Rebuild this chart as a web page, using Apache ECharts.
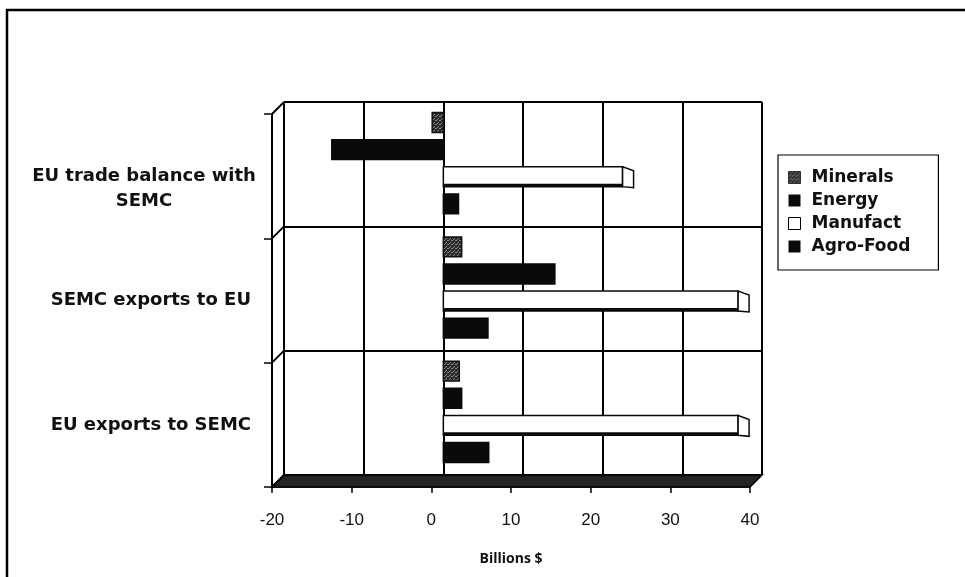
<!DOCTYPE html>
<html>
<head>
<meta charset="utf-8">
<script src="https://cdn.jsdelivr.net/npm/echarts@6/dist/echarts.min.js"></script>
<style>
  html, body { margin: 0; padding: 0; background: #fff; }
  #chart { width: 965px; height: 577px; }
</style>
</head>
<body>
<div id="chart"></div>
<script>
// Trade flows between the EU and the SEMC, by product group (billions $)
const categories = ['EU trade balance with SEMC', 'SEMC exports to EU', 'EU exports to SEMC'];
const seriesNames = ['Minerals', 'Energy', 'Manufact', 'Agro-Food'];
const minerals = [-1.4, 2.3, 2.0];
const energy = [-14.0, 14.0, 2.3];
const manufact = [22.5, 37.0, 37.0];
const agroFood = [1.9, 5.6, 5.7];
const xMin = -20, xMax = 40, xStep = 10;

const seriesValues = [minerals, energy, manufact, agroFood];

// dithered dark fill for the Minerals bars
function ditherPattern() {
  const c = document.createElement('canvas');
  c.width = 4; c.height = 4;
  const g = c.getContext('2d');
  g.fillStyle = '#2a2a2a'; g.fillRect(0, 0, 4, 4);
  g.fillStyle = '#8a8a8a';
  g.fillRect(0, 0, 1, 1); g.fillRect(2, 2, 1, 1); g.fillRect(3, 0, 1, 1); g.fillRect(1, 3, 1, 1);
  return { image: c, repeat: 'repeat' };
}
const mineralFill = ditherPattern();

const barStyles = [
  { fill: mineralFill, stroke: '#111', cap: false },
  { fill: '#0a0a0a', stroke: '#0a0a0a', cap: false },
  { fill: '#ffffff', stroke: '#0a0a0a', cap: true },
  { fill: '#0a0a0a', stroke: '#0a0a0a', cap: false }
];

const DEPTH_X = 12, DEPTH_Y = 12;

function makeBarRenderer(k) {
  return function (params, api) {
    const val = api.value(0), cat = api.value(1);
    const bandH = api.size([0, 1])[1];
    const p0 = api.coord([0, cat]);
    const p1 = api.coord([val, cat]);
    const h = bandH * 0.16;
    const cy = p0[1] + (k - 1.5) * bandH * 0.218 - 1;
    const yTop = cy - h / 2, yBot = cy + h / 2;
    const x0 = Math.min(p0[0], p1[0]);
    const w = Math.abs(p1[0] - p0[0]);
    const st = barStyles[k];
    const children = [{
      type: 'rect',
      shape: { x: x0, y: yTop, width: w, height: h },
      style: { fill: st.fill, stroke: st.stroke, lineWidth: 1.5 }
    }];
    if (st.cap) {
      // shaded underside and right end face of the white bars
      children.push({
        type: 'rect',
        shape: { x: x0, y: yBot - 3, width: w, height: 3 },
        style: { fill: '#0a0a0a' }
      });
      const xe = p1[0];
      children.push({
        type: 'polygon',
        shape: { points: [[xe, yTop], [xe + 11, yTop + 4], [xe + 11, yBot + 1], [xe, yBot]] },
        style: { fill: '#fff', stroke: '#0a0a0a', lineWidth: 1.5 }
      });
    }
    return { type: 'group', children: children };
  };
}

// floor and left wall edges of the box
function renderFrame(params, api) {
  const cs = params.coordSys;
  const x = cs.x, y = cs.y, w = cs.width, h = cs.height;
  const children = [{
    type: 'polygon',
    shape: { points: [[x, y + h], [x + w, y + h], [x + w - DEPTH_X, y + h + DEPTH_Y], [x - DEPTH_X, y + h + DEPTH_Y]] },
    style: { fill: '#242424', stroke: '#000', lineWidth: 1.5 }
  }];
  const n = categories.length;
  for (let i = 0; i <= n; i++) {
    const yy = y + (h * i) / n;
    children.push({
      type: 'line',
      shape: { x1: x - DEPTH_X, y1: yy + DEPTH_Y, x2: x, y2: yy },
      style: { stroke: '#000', lineWidth: 2 }
    });
  }
  return { type: 'group', children: children };
}

const boldFont = "'DejaVu Sans', sans-serif";
const tickFont = "'Liberation Sans', sans-serif";

const series = seriesNames.map((name, k) => ({
  name: name,
  type: 'custom',
  xAxisIndex: 0,
  yAxisIndex: 0,
  renderItem: makeBarRenderer(k),
  encode: { x: 0, y: 1 },
  itemStyle: k === 2 ? { color: '#fff', borderColor: '#000', borderWidth: 1 } :
             { color: k === 0 ? '#3a3a3a' : '#0a0a0a' },
  data: seriesValues[k].map((v, i) => [v, i]),
  z: 5
}));
series.push({
  name: 'frame',
  type: 'custom',
  xAxisIndex: 0,
  yAxisIndex: 0,
  silent: true,
  renderItem: renderFrame,
  encode: { x: 0, y: 1 },
  data: [[0, 0]],
  z: 3
});

const chart = echarts.init(document.getElementById('chart'), null, { renderer: 'canvas' });
chart.setOption({
  animation: false,
  backgroundColor: '#fff',
  graphic: [{
    type: 'polyline',
    shape: { points: [[7, 577], [7, 10], [965, 10]] },
    style: { stroke: '#000', lineWidth: 2.5, fill: null },
    silent: true
  }],
  grid: [
    { left: 284, right: 203, top: 102, bottom: 102 },
    { left: 272, right: 215, top: 114, bottom: 90 }
  ],
  xAxis: [{
    gridIndex: 0, type: 'value', min: xMin, max: xMax, interval: xStep,
    axisLine: { show: false }, axisTick: { show: false }, axisLabel: { show: false },
    splitLine: { show: true, lineStyle: { color: '#000', width: 2 } }
  }, {
    gridIndex: 1, type: 'value', min: xMin, max: xMax, interval: xStep,
    axisLine: { show: true, onZero: false, lineStyle: { color: '#000', width: 1.5 } },
    axisTick: { show: true, length: 6, lineStyle: { color: '#000', width: 1.5 } },
    splitLine: { show: false },
    axisLabel: { color: '#111', fontFamily: tickFont, fontSize: 17, margin: 25 },
    name: 'Billions $', nameLocation: 'middle', nameGap: 65,
    nameTextStyle: { color: '#111', fontFamily: "'Open Sans', sans-serif", fontSize: 14, fontWeight: 'bold' }
  }],
  yAxis: [{
    gridIndex: 0, type: 'category', data: categories, inverse: true,
    axisLine: { show: false }, axisTick: { show: false }, axisLabel: { show: false },
    splitLine: { show: true, lineStyle: { color: '#000', width: 2 } }
  }, {
    gridIndex: 1, type: 'category', data: categories, inverse: true,
    axisLine: { show: true, onZero: false, lineStyle: { color: '#000', width: 2 } },
    axisTick: { show: true, length: 8, lineStyle: { color: '#000', width: 1.5 } },
    splitLine: { show: false },
    axisLabel: {
      margin: 21, color: '#111', fontFamily: boldFont, fontSize: 18, fontWeight: 'bold', lineHeight: 25,
      formatter: function (v) {
        if (v === categories[0]) {
          return '\n{w|EU trade balance with}\n{w|SEMC}';
        }
        return v;
      },
      rich: {
        w: { width: 214, align: 'center', fontFamily: boldFont, fontSize: 18, fontWeight: 'bold', color: '#111', lineHeight: 25 }
      }
    }
  }],
  legend: {
    orient: 'vertical', left: 778, top: 155,
    icon: 'rect', itemWidth: 12, itemHeight: 12, itemGap: 6,
    selectedMode: false,
    borderColor: '#000', borderWidth: 1.2,
    padding: [14, 28, 15, 10],
    textStyle: { color: '#111', fontFamily: boldFont, fontSize: 17, fontWeight: 'bold', padding: [0, 0, 0, 6] },
    data: [
      { name: 'Minerals', itemStyle: { color: mineralFill, borderColor: '#111', borderWidth: 0.8 } },
      { name: 'Energy', itemStyle: { color: '#0a0a0a' } },
      { name: 'Manufact', itemStyle: { color: '#fff', borderColor: '#000', borderWidth: 1 } },
      { name: 'Agro-Food', itemStyle: { color: '#0a0a0a' } }
    ]
  },
  series: series
});
</script>
</body>
</html>
